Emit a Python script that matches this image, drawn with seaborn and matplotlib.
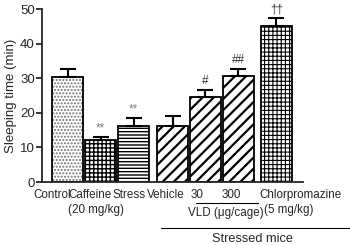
import matplotlib
matplotlib.use('Agg')
import matplotlib.pyplot as plt
import matplotlib.transforms as mtransforms
import seaborn as sns
import numpy as np
import pandas as pd

# Datos
groups = ['Control', 'Caffeine', 'Stress', 'Vehicle', 'VLD30', 'VLD300', 'Chlorpromazine']
tick_labels = ['Control', 'Caffeine', 'Stress', 'Vehicle', '30', '300', 'Chlorpromazine']
sub_labels = ['', '(20 mg/kg)', '', '', '', '', '(5 mg/kg)']
sleep_mean = [30.4, 12.2, 16.1, 16.2, 24.7, 30.7, 45.2]
sleep_sem = [2.2, 0.9, 2.4, 2.9, 1.9, 1.9, 2.2]
marks = ['', '**', '**', '', '#', '##', '††']
hatches = ['.....', '++++', '-----', '///', '///', '///', '++++']

sns.set_style('ticks')
plt.rcParams['font.family'] = ['Liberation Sans', 'DejaVu Sans']
plt.rcParams['hatch.linewidth'] = 1.0

# posiciones con separación extra entre grupos
gap = [0, 0, 0, 0.18, 0.18, 0.18, 0.33]
xpos = np.arange(len(groups)) + np.array(gap)

df = pd.DataFrame({'x': xpos, 'y': sleep_mean})

fig = plt.figure(figsize=(3.5, 2.45), dpi=100)
ax = fig.add_axes([0.119, 0.257, 0.746, 0.706])

sns.barplot(data=df, x='x', y='y', native_scale=True, width=0.94,
            color='white', edgecolor='black', linewidth=1.3, ax=ax)

for i, (patch, h) in enumerate(zip(ax.patches, hatches)):
    patch.set_hatch(h)
    if i == 0:
        patch._hatch_color = (0.45, 0.45, 0.45, 1.0)  # puntos grises
    if hasattr(patch, 'set_hatch_linewidth'):
        if h == '///':
            patch.set_hatch_linewidth(1.6)
        elif i == 6:
            patch.set_hatch_linewidth(0.8)

ax.errorbar(xpos, sleep_mean, yerr=[np.zeros(len(sleep_sem)), sleep_sem],
            fmt='none', ecolor='black', elinewidth=1.5, capsize=6, capthick=1.5)

for x, m, s, t in zip(xpos, sleep_mean, sleep_sem, marks):
    if t:
        col = '#808080' if t == '**' else '#333333'
        ax.annotate(t, (x, m + s), xytext=(0, 2), textcoords='offset points',
                    ha='center', va='bottom', fontsize=8.5, color=col)

ax.set_xlim(xpos[0] - 0.79, xpos[-1] + 0.8)
ax.set_ylim(0, 50)
ax.set_yticks([0, 10, 20, 30, 40, 50])
ax.set_xticks(xpos)
ax.set_xticklabels([])
ax.tick_params(axis='x', length=0)
ax.tick_params(axis='y', labelsize=9.5, width=1.3, length=4, pad=1)
ax.set_xlabel('')
ax.set_ylabel('Sleeping time (min)', fontsize=9.5, labelpad=2)
sns.despine(ax=ax)
for sp in ['left', 'bottom']:
    ax.spines[sp].set_linewidth(1.3)

trans = mtransforms.blended_transform_factory(ax.transData, ax.transAxes)

# etiquetas del eje x (como en Prism, algo desplazadas)
lab_shift = [-0.48, -0.33, -0.15, -0.21, -0.27, -0.21, -0.51]
sub_shift = [0, -0.15, 0, 0, 0, 0, -0.39]
for i, (x, lab, sub) in enumerate(zip(xpos, tick_labels, sub_labels)):
    ha = 'left' if i == 6 else 'center'
    ax.text(x + lab_shift[i], -0.075, lab, ha=ha, va='center', fontsize=8.4,
            transform=trans)
    if sub:
        ax.text(x + sub_shift[i], -0.159, sub, ha=ha, va='center', fontsize=8.4,
                transform=trans)

# anotaciones debajo del eje
ax.plot([xpos[4] - 0.30, xpos[5] + 0.58], [-0.121, -0.121], color='black',
        lw=0.8, transform=trans, clip_on=False)
ax.text((xpos[4] + xpos[5]) / 2 + 0.11, -0.179, 'VLD (\u03bcg/cage)', ha='center',
        va='center', fontsize=8.4, transform=trans)
ax.plot([xpos[3] - 0.36, xpos[6] + 2.25], [-0.266, -0.266], color='black',
        lw=0.8, transform=trans, clip_on=False)
ax.text(xpos[5] + 0.42, -0.33, 'Stressed mice', ha='center', va='center',
        fontsize=9.2, transform=trans)

fig.savefig('out.png', dpi=100)
